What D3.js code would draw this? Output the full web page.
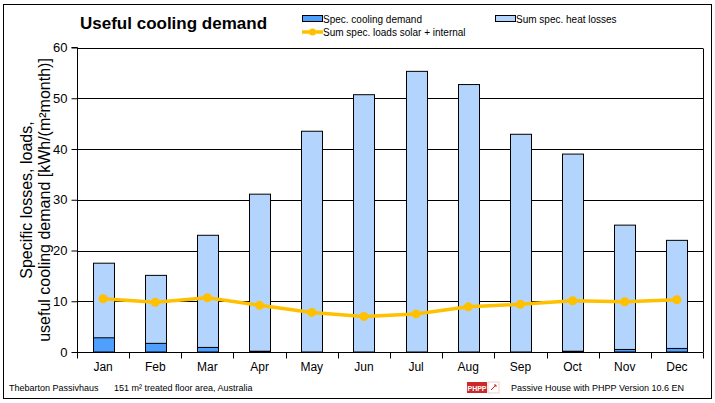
<!DOCTYPE html>
<html>
<head>
<meta charset="utf-8">
<script src="https://cdn.jsdelivr.net/npm/d3@7/dist/d3.min.js"></script>
<style>
  body { margin: 0; background: #fff; }
  svg { font-family: Arial, "Liberation Sans", sans-serif; }
</style>
</head>
<body>
<div id="chart"></div>
<script>
// chart data
const months = ['Jan','Feb','Mar','Apr','May','Jun','Jul','Aug','Sep','Oct','Nov','Dec'];
const heatLosses = [17.5, 15.1, 23.0, 31.1, 43.5, 50.7, 55.3, 52.7, 42.9, 39.0, 25.0, 22.0];
const coolingDemand = [2.8, 1.7, 0.9, 0.15, 0, 0, 0, 0, 0, 0.15, 0.5, 0.7];
const loadsSolarInternal = [10.5, 9.8, 10.7, 9.2, 7.8, 7.0, 7.5, 8.9, 9.4, 10.1, 9.9, 10.3];
const yTicks = [0, 10, 20, 30, 40, 50, 60];

// layout
const W = 715, H = 403;
const plot = {l: 77, r: 703, t: 47.5, b: 352};

const svg = d3.select('#chart').append('svg')
    .attr('width', W)
    .attr('height', H);

// outer frame
svg.append('rect')
    .attr('x', 3.5).attr('y', 4.5)
    .attr('width', 708).attr('height', 394)
    .attr('fill', 'none').attr('stroke', '#000').attr('stroke-width', 1);

// scales
const x = d3.scaleBand().domain(months).range([plot.l, plot.r]).paddingInner(0.6).paddingOuter(0.3);
const xStep = d3.scaleBand().domain(months).range([plot.l, plot.r]);
const y = d3.scaleLinear().domain([0, 60]).range([plot.b, plot.t]);

// gridlines
svg.append('g').selectAll('line')
    .data(yTicks.filter(d => d > 0))
    .join('line')
    .attr('x1', plot.l).attr('x2', plot.r)
    .attr('y1', d => Math.round(y(d)) + 0.5).attr('y2', d => Math.round(y(d)) + 0.5)
    .attr('stroke', '#000').attr('stroke-width', 1);

// right edge of plot
svg.append('line')
    .attr('x1', plot.r + 0.5).attr('x2', plot.r + 0.5)
    .attr('y1', Math.round(y(60)) + 0.5).attr('y2', plot.b)
    .attr('stroke', '#000');

// heat loss bars
svg.append('g').selectAll('rect')
    .data(months.map((m, i) => ({m, v: heatLosses[i]})))
    .join('rect')
    .attr('x', d => Math.round(x(d.m)) + 0.5)
    .attr('y', d => y(d.v))
    .attr('width', Math.round(x.bandwidth()))
    .attr('height', d => plot.b - y(d.v))
    .attr('fill', '#b3d4fc')
    .attr('stroke', '#000').attr('stroke-width', 1);

// cooling demand bars
svg.append('g').selectAll('rect')
    .data(months.map((m, i) => ({m, v: coolingDemand[i]})).filter(d => d.v > 0))
    .join('rect')
    .attr('x', d => Math.round(x(d.m)) + 0.5)
    .attr('y', d => y(d.v))
    .attr('width', Math.round(x.bandwidth()))
    .attr('height', d => plot.b - y(d.v))
    .attr('fill', '#4f9fff')
    .attr('stroke', '#000').attr('stroke-width', 1);

// y axis
const yAxis = d3.axisLeft(y).tickValues(yTicks).tickSize(6).tickPadding(4);
const yG = svg.append('g')
    .attr('transform', `translate(${plot.l + 0.5},0)`)
    .call(yAxis);
yG.select('.domain').attr('stroke', '#000').attr('d', `M-6,${plot.t}H0V${plot.b}`);
yG.selectAll('text').attr('font-size', 13).attr('fill', '#000').attr('font-family', 'Arial, "Liberation Sans", sans-serif');

// x axis
const xAxis = d3.axisBottom(xStep).tickSize(0).tickPadding(10);
const xG = svg.append('g')
    .attr('transform', `translate(0,${plot.b + 0.5})`)
    .call(xAxis);
xG.select('.domain').attr('stroke', '#000').attr('d', `M${plot.l},0H${plot.r + 0.5}`);
xG.selectAll('text').attr('font-size', 12).attr('fill', '#000').attr('font-family', 'Arial, "Liberation Sans", sans-serif');
xG.selectAll('.bnd')
    .data(months.map(m => xStep(m) + xStep.bandwidth()).concat([plot.l]))
    .join('line')
    .attr('x1', d => Math.round(d) + 0.5).attr('x2', d => Math.round(d) + 0.5)
    .attr('y1', 0).attr('y2', 6)
    .attr('stroke', '#000');

// solar + internal loads line
const line = d3.line()
    .x((d, i) => xStep(months[i]) + xStep.bandwidth() / 2)
    .y(d => y(d));
svg.append('path')
    .datum(loadsSolarInternal)
    .attr('d', line)
    .attr('fill', 'none')
    .attr('stroke', '#ffc000')
    .attr('stroke-width', 3.5);
svg.append('g').selectAll('circle')
    .data(loadsSolarInternal)
    .join('circle')
    .attr('cx', (d, i) => xStep(months[i]) + xStep.bandwidth() / 2)
    .attr('cy', d => y(d))
    .attr('r', 4.5)
    .attr('fill', '#ffc000');

// y axis title
const yTitle = svg.append('text')
    .attr('transform', 'translate(0,200) rotate(-90)')
    .attr('text-anchor', 'middle')
    .attr('font-size', 16)
    .attr('fill', '#000');
yTitle.append('tspan').attr('x', 0).attr('y', 32).text('Specific losses, loads,');
yTitle.append('tspan').attr('x', 0).attr('y', 50).text('useful cooling demand [kWh/(m²month)]');

// title
svg.append('text')
    .attr('x', 80).attr('y', 29)
    .attr('font-size', 17).attr('font-weight', 'bold')
    .text('Useful cooling demand');

// legend
const legend = svg.append('g').attr('font-size', 10).attr('fill', '#000');
const legendItems = [
    {label: 'Spec. cooling demand', type: 'bar', fill: '#4f9fff', lx: 302, ly: 20},
    {label: 'Sum spec. heat losses', type: 'bar', fill: '#b3d4fc', lx: 495, ly: 20},
    {label: 'Sum spec. loads solar + internal', type: 'line', fill: '#ffc000', lx: 302, ly: 33}
];
legendItems.forEach(it => {
    if (it.type === 'bar') {
        legend.append('rect')
            .attr('x', it.lx + 0.5).attr('y', it.ly - 4.5)
            .attr('width', 20).attr('height', 6)
            .attr('fill', it.fill).attr('stroke', '#000');
    } else {
        legend.append('line')
            .attr('x1', it.lx).attr('x2', it.lx + 21)
            .attr('y1', it.ly - 1).attr('y2', it.ly - 1)
            .attr('stroke', it.fill).attr('stroke-width', 3.5);
        legend.append('circle')
            .attr('cx', it.lx + 10.5).attr('cy', it.ly - 1)
            .attr('r', 3.5).attr('fill', it.fill);
    }
    legend.append('text')
        .attr('x', it.lx + 21).attr('y', it.ly + 3)
        .text(it.label);
});

// footer
const footer = svg.append('g').attr('font-size', 9).attr('fill', '#000');
footer.append('text').attr('x', 9).attr('y', 391).text('Thebarton Passivhaus');
footer.append('text').attr('x', 114).attr('y', 391).text('151 m² treated floor area, Australia');
footer.append('text').attr('x', 511).attr('y', 391).text('Passive House with PHPP Version 10.6 EN');

// PHPP logo
const logo = svg.append('g').attr('transform', 'translate(467,382)');
logo.append('rect').attr('width', 20).attr('height', 11).attr('fill', '#cc2a2a');
logo.append('text').attr('x', 10).attr('y', 8.5).attr('text-anchor', 'middle')
    .attr('font-size', 7).attr('font-weight', 'bold').attr('fill', '#fff').text('PHPP');
logo.append('rect').attr('x', 21).attr('y', 0).attr('width', 11).attr('height', 11)
    .attr('fill', '#fff').attr('stroke', '#e9b0b0').attr('stroke-width', 0.6);
logo.append('path').attr('d', 'M24,8 L29,3 M27,3 L29,3 L29,5').attr('stroke', '#cc2a2a')
    .attr('stroke-width', 1).attr('fill', 'none');
</script>
</body>
</html>
